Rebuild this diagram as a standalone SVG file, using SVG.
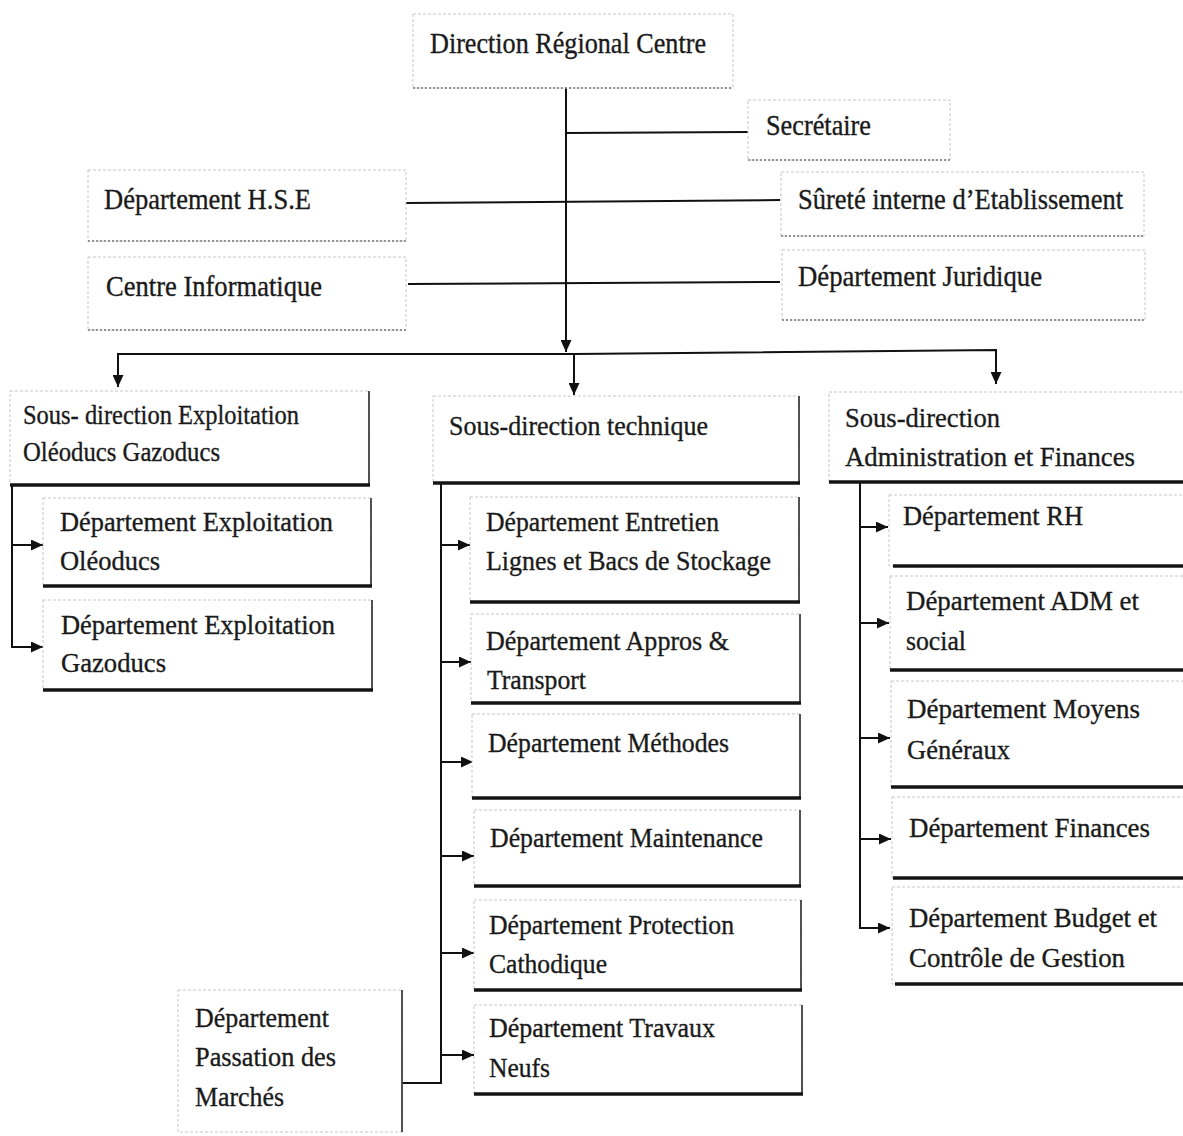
<svg xmlns="http://www.w3.org/2000/svg" width="1183" height="1136" viewBox="0 0 1183 1136">
  <style>
    .frame { fill: #ffffff; stroke: #c6c6c6; stroke-width: 1; stroke-dasharray: 3 2; }
    .edge-r { stroke: #2a2a2a; stroke-width: 1.6; fill: none; }
    .edge-b { stroke: #141414; stroke-width: 3.5; fill: none; }
    .edge-bd { stroke: #7a7a7a; stroke-width: 1.5; stroke-dasharray: 2 2; fill: none; }
    .lbl { font-family: "Liberation Serif", "Times New Roman", serif; font-size: 28px; fill: #1a1a1a; stroke: #1a1a1a; stroke-width: 0.35; }
    .big { font-size: 30px; }
    .wire { stroke: #111111; stroke-width: 2; fill: none; }
  </style>
  <defs>
    <marker id="ah" markerWidth="12" markerHeight="11" refX="12" refY="5.5" orient="auto" markerUnits="userSpaceOnUse">
      <path d="M0,0 L12,5.5 L0,11 z" fill="#111111"/>
    </marker>
  </defs>
  <rect width="1183" height="1136" fill="#ffffff"/>

  <!-- connectors -->
  <g id="connectors">
    <line class="wire" x1="566" y1="88" x2="566" y2="352" marker-end="url(#ah)"/>
    <line class="wire" x1="566" y1="133" x2="748" y2="132"/>
    <line class="wire" x1="406" y1="203" x2="780" y2="200"/>
    <line class="wire" x1="408" y1="284" x2="780" y2="282"/>
    <polyline class="wire" points="118,387 118,354 574,354 996,350 996,384" marker-end="url(#ah)"/>
    <line class="wire" x1="118" y1="354" x2="118" y2="387" marker-end="url(#ah)"/>
    <line class="wire" x1="574" y1="354" x2="574" y2="395" marker-end="url(#ah)"/>
    <!-- left branch -->
    <polyline class="wire" points="10,485 12,485 12,647 43,647" marker-end="url(#ah)"/>
    <line class="wire" x1="12" y1="545" x2="43" y2="545" marker-end="url(#ah)"/>
    <!-- middle branch -->
    <polyline class="wire" points="402,1083 441,1083 441,484"/>
    <line class="wire" x1="441" y1="545" x2="470" y2="545" marker-end="url(#ah)"/>
    <line class="wire" x1="441" y1="662" x2="471" y2="662" marker-end="url(#ah)"/>
    <line class="wire" x1="441" y1="762" x2="473" y2="762" marker-end="url(#ah)"/>
    <line class="wire" x1="441" y1="856" x2="474" y2="856" marker-end="url(#ah)"/>
    <line class="wire" x1="441" y1="953" x2="474" y2="953" marker-end="url(#ah)"/>
    <line class="wire" x1="441" y1="1055" x2="474" y2="1055" marker-end="url(#ah)"/>
    <!-- right branch -->
    <polyline class="wire" points="860,483 860,928 890,928" marker-end="url(#ah)"/>
    <line class="wire" x1="860" y1="527" x2="888" y2="527" marker-end="url(#ah)"/>
    <line class="wire" x1="860" y1="623" x2="889" y2="623" marker-end="url(#ah)"/>
    <line class="wire" x1="860" y1="738" x2="890" y2="738" marker-end="url(#ah)"/>
    <line class="wire" x1="860" y1="839" x2="891" y2="839" marker-end="url(#ah)"/>
  </g>

  <!-- top level -->
  <g id="direction">
    <rect class="frame" x="413" y="14" width="320" height="74"/>
    <line class="edge-bd" x1="413" y1="88" x2="733" y2="88"/>
    <text class="lbl big" x="430" y="53" textLength="276" lengthAdjust="spacingAndGlyphs">Direction Régional Centre</text>
  </g>
  <g id="secretaire">
    <rect class="frame" x="748" y="100" width="202" height="60"/>
    <line class="edge-bd" x1="748" y1="160" x2="950" y2="160"/>
    <text class="lbl big" x="766" y="135" textLength="105" lengthAdjust="spacingAndGlyphs">Secrétaire</text>
  </g>
  <g id="hse">
    <rect class="frame" x="88" y="170" width="318" height="71"/>
    <line class="edge-bd" x1="88" y1="241" x2="406" y2="241"/>
    <text class="lbl big" x="104" y="209" textLength="207" lengthAdjust="spacingAndGlyphs">Département H.S.E</text>
  </g>
  <g id="informatique">
    <rect class="frame" x="88" y="257" width="318" height="73"/>
    <line class="edge-bd" x1="88" y1="330" x2="406" y2="330"/>
    <text class="lbl big" x="106" y="296" textLength="216" lengthAdjust="spacingAndGlyphs">Centre Informatique</text>
  </g>
  <g id="surete">
    <rect class="frame" x="781" y="172" width="363" height="64"/>
    <line class="edge-bd" x1="781" y1="236" x2="1144" y2="236"/>
    <text class="lbl big" x="798" y="209" textLength="325" lengthAdjust="spacingAndGlyphs">Sûreté interne d’Etablissement</text>
  </g>
  <g id="juridique">
    <rect class="frame" x="782" y="250" width="363" height="70"/>
    <line class="edge-bd" x1="782" y1="320" x2="1145" y2="320"/>
    <text class="lbl big" x="798" y="286" textLength="244" lengthAdjust="spacingAndGlyphs">Département Juridique</text>
  </g>

  <!-- Sous-direction Exploitation -->
  <g id="sd-exploitation">
    <rect class="frame" x="10" y="391" width="359" height="94"/>
    <line class="edge-r" x1="369" y1="391" x2="369" y2="485"/>
    <line class="edge-b" x1="10" y1="485" x2="370" y2="485"/>
    <text class="lbl" x="23" y="424" textLength="276" lengthAdjust="spacingAndGlyphs">Sous- direction Exploitation</text>
    <text class="lbl" x="23" y="461" textLength="197" lengthAdjust="spacingAndGlyphs">Oléoducs Gazoducs</text>
  </g>
  <g id="dep-oleoducs">
    <rect class="frame" x="43" y="498" width="328" height="88"/>
    <line class="edge-r" x1="371" y1="498" x2="371" y2="586"/>
    <line class="edge-b" x1="43" y1="586" x2="372" y2="586"/>
    <text class="lbl" x="60" y="531" textLength="273" lengthAdjust="spacingAndGlyphs">Département Exploitation</text>
    <text class="lbl" x="60" y="570" textLength="100" lengthAdjust="spacingAndGlyphs">Oléoducs</text>
  </g>
  <g id="dep-gazoducs">
    <rect class="frame" x="43" y="600" width="329" height="90"/>
    <line class="edge-r" x1="372" y1="600" x2="372" y2="690"/>
    <line class="edge-b" x1="43" y1="690" x2="373" y2="690"/>
    <text class="lbl" x="61" y="634" textLength="274" lengthAdjust="spacingAndGlyphs">Département Exploitation</text>
    <text class="lbl" x="61" y="672" textLength="105" lengthAdjust="spacingAndGlyphs">Gazoducs</text>
  </g>

  <!-- Sous-direction technique -->
  <g id="sd-technique">
    <rect class="frame" x="433" y="396" width="366" height="87"/>
    <line class="edge-r" x1="799" y1="396" x2="799" y2="483"/>
    <line class="edge-b" x1="433" y1="483" x2="800" y2="483"/>
    <text class="lbl" x="449" y="435" textLength="259" lengthAdjust="spacingAndGlyphs">Sous-direction technique</text>
  </g>
  <g id="dep-entretien">
    <rect class="frame" x="470" y="497" width="329" height="105"/>
    <line class="edge-r" x1="799" y1="497" x2="799" y2="602"/>
    <line class="edge-b" x1="470" y1="602" x2="800" y2="602"/>
    <text class="lbl" x="486" y="531" textLength="233" lengthAdjust="spacingAndGlyphs">Département Entretien</text>
    <text class="lbl" x="486" y="570" textLength="285" lengthAdjust="spacingAndGlyphs">Lignes et Bacs de Stockage</text>
  </g>
  <g id="dep-appros">
    <rect class="frame" x="471" y="614" width="329" height="89"/>
    <line class="edge-r" x1="800" y1="614" x2="800" y2="703"/>
    <line class="edge-b" x1="471" y1="703" x2="801" y2="703"/>
    <text class="lbl" x="486" y="650" textLength="243" lengthAdjust="spacingAndGlyphs">Département Appros &amp;</text>
    <text class="lbl" x="487" y="689" textLength="99" lengthAdjust="spacingAndGlyphs">Transport</text>
  </g>
  <g id="dep-methodes">
    <rect class="frame" x="472" y="714" width="328" height="84"/>
    <line class="edge-r" x1="800" y1="714" x2="800" y2="798"/>
    <line class="edge-b" x1="472" y1="798" x2="801" y2="798"/>
    <text class="lbl" x="488" y="752" textLength="241" lengthAdjust="spacingAndGlyphs">Département Méthodes</text>
  </g>
  <g id="dep-maintenance">
    <rect class="frame" x="474" y="810" width="326" height="76"/>
    <line class="edge-r" x1="800" y1="810" x2="800" y2="886"/>
    <line class="edge-b" x1="474" y1="886" x2="801" y2="886"/>
    <text class="lbl" x="490" y="847" textLength="273" lengthAdjust="spacingAndGlyphs">Département Maintenance</text>
  </g>
  <g id="dep-protection">
    <rect class="frame" x="474" y="900" width="327" height="90"/>
    <line class="edge-r" x1="801" y1="900" x2="801" y2="990"/>
    <line class="edge-b" x1="474" y1="990" x2="802" y2="990"/>
    <text class="lbl" x="489" y="934" textLength="245" lengthAdjust="spacingAndGlyphs">Département Protection</text>
    <text class="lbl" x="489" y="973" textLength="118" lengthAdjust="spacingAndGlyphs">Cathodique</text>
  </g>
  <g id="dep-travaux">
    <rect class="frame" x="474" y="1005" width="328" height="89"/>
    <line class="edge-r" x1="802" y1="1005" x2="802" y2="1094"/>
    <line class="edge-b" x1="474" y1="1094" x2="803" y2="1094"/>
    <text class="lbl" x="489" y="1037" textLength="226" lengthAdjust="spacingAndGlyphs">Département Travaux</text>
    <text class="lbl" x="489" y="1077" textLength="61" lengthAdjust="spacingAndGlyphs">Neufs</text>
  </g>
  <g id="dep-passation">
    <rect class="frame" x="178" y="990" width="224" height="142"/>
    <line class="edge-r" x1="402" y1="990" x2="402" y2="1132"/>
    <text class="lbl" x="195" y="1027" textLength="134" lengthAdjust="spacingAndGlyphs">Département</text>
    <text class="lbl" x="195" y="1066" textLength="141" lengthAdjust="spacingAndGlyphs">Passation des</text>
    <text class="lbl" x="195" y="1106" textLength="89" lengthAdjust="spacingAndGlyphs">Marchés</text>
  </g>

  <!-- Sous-direction Administration et Finances -->
  <g id="sd-administration">
    <rect class="frame" x="829" y="392" width="360" height="90"/>
    <line class="edge-b" x1="829" y1="482" x2="1183" y2="482"/>
    <text class="lbl" x="845" y="427" textLength="155" lengthAdjust="spacingAndGlyphs">Sous-direction</text>
    <text class="lbl" x="845" y="466" textLength="290" lengthAdjust="spacingAndGlyphs">Administration et Finances</text>
  </g>
  <g id="dep-rh">
    <rect class="frame" x="889" y="495" width="300" height="71"/>
    <line class="edge-b" x1="893" y1="566" x2="1183" y2="566"/>
    <text class="lbl" x="903" y="525" textLength="180" lengthAdjust="spacingAndGlyphs">Département RH</text>
  </g>
  <g id="dep-adm">
    <rect class="frame" x="890" y="576" width="300" height="94"/>
    <line class="edge-b" x1="890" y1="670" x2="1183" y2="670"/>
    <text class="lbl" x="906" y="610" textLength="233" lengthAdjust="spacingAndGlyphs">Département ADM et</text>
    <text class="lbl" x="906" y="650" textLength="60" lengthAdjust="spacingAndGlyphs">social</text>
  </g>
  <g id="dep-moyens">
    <rect class="frame" x="891" y="681" width="300" height="106"/>
    <line class="edge-b" x1="891" y1="787" x2="1183" y2="787"/>
    <text class="lbl" x="907" y="718" textLength="233" lengthAdjust="spacingAndGlyphs">Département Moyens</text>
    <text class="lbl" x="907" y="759" textLength="103" lengthAdjust="spacingAndGlyphs">Généraux</text>
  </g>
  <g id="dep-finances">
    <rect class="frame" x="892" y="797" width="300" height="81"/>
    <line class="edge-b" x1="893" y1="878" x2="1183" y2="878"/>
    <text class="lbl" x="909" y="837" textLength="241" lengthAdjust="spacingAndGlyphs">Département Finances</text>
  </g>
  <g id="dep-budget">
    <rect class="frame" x="892" y="887" width="300" height="97"/>
    <line class="edge-b" x1="895" y1="984" x2="1183" y2="984"/>
    <text class="lbl" x="909" y="927" textLength="248" lengthAdjust="spacingAndGlyphs">Département Budget et</text>
    <text class="lbl" x="909" y="967" textLength="216" lengthAdjust="spacingAndGlyphs">Contrôle de Gestion</text>
  </g>
</svg>
